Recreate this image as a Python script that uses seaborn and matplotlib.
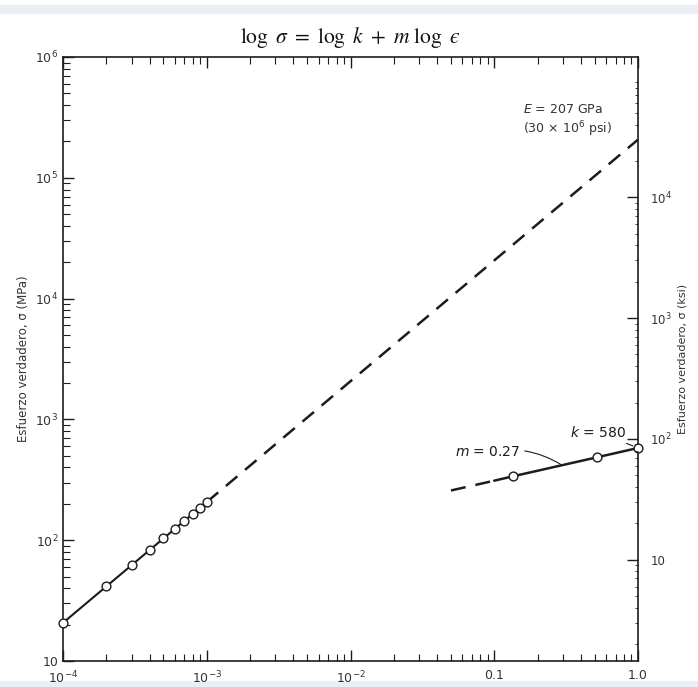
import numpy as np
import pandas as pd
import matplotlib
matplotlib.use("Agg")
import matplotlib.pyplot as plt
import matplotlib.ticker as mticker
from matplotlib.patches import Rectangle
import seaborn as sns

elastic_strain = [1e-4, 2e-4, 3e-4, 4e-4, 5e-4, 6e-4, 7e-4, 8e-4, 9e-4, 1e-3]
elastic_stress = [20.7, 41.4, 62.1, 82.8, 103.5, 124.2, 144.9, 165.6, 186.3, 207.0]
# dashed extension of the elastic line
elastic_ext_strain = [1e-3, 1.0]
elastic_ext_stress = [207.0, 207000.0]

# plastic region
plastic_strain = [0.1, 0.135, 0.52, 1.0]
plastic_stress = [311.0, 338.0, 486.0, 580.0]
plastic_pts_strain = [0.135, 0.52, 1.0]
plastic_pts_stress = [338.0, 486.0, 580.0]
plastic_ext_strain = [0.05, 0.1]
plastic_ext_stress = [258.0, 311.0]

x_ticks = [1e-4, 1e-3, 1e-2, 0.1, 1.0]
x_labels = [r'$10^{-4}$', r'$10^{-3}$', r'$10^{-2}$', '0.1', '1.0']
y_ticks = [10, 1e2, 1e3, 1e4, 1e5, 1e6]
y_labels = ['10', r'$10^2$', r'$10^3$', r'$10^4$', r'$10^5$', r'$10^6$']
ksi_ticks = [10, 1e2, 1e3, 1e4]
ksi_labels = ['10', r'$10^2$', r'$10^3$', r'$10^4$']
MPA_PER_KSI = 6.895

sns.set_style("ticks")
plt.rcParams['font.family'] = ['DejaVu Sans']
plt.rcParams['xtick.direction'] = 'in'
plt.rcParams['ytick.direction'] = 'in'

ink = '#1c1c1c'
fig = plt.figure(figsize=(6.98, 6.87), dpi=100)
fig.patch.set_facecolor('white')
# light scan border bands
fig.add_artist(Rectangle((0, 1 - 13 / 687), 1, 8 / 687, transform=fig.transFigure,
                         color='#eaeef5', zorder=0))
fig.add_artist(Rectangle((0, 0), 1, 6 / 687, transform=fig.transFigure,
                         color='#eaeef5', zorder=0))

ax = fig.add_axes([63 / 698, 26 / 687, 575 / 698, 604 / 687])
ax.set_xscale('log')
ax.set_yscale('log')
ax.set_xlim(1e-4, 1.0)
ax.set_ylim(10, 1e6)

sns.lineplot(x=elastic_strain, y=elastic_stress, ax=ax, color=ink, lw=1.5, sort=False)
sns.lineplot(x=elastic_ext_strain, y=elastic_ext_stress, ax=ax, color=ink, lw=1.8,
             linestyle=(0, (6, 4)), sort=False)
sns.lineplot(x=plastic_strain, y=plastic_stress, ax=ax, color=ink, lw=1.8, sort=False)
sns.lineplot(x=plastic_ext_strain, y=plastic_ext_stress, ax=ax, color=ink, lw=1.8,
             linestyle=(0, (6, 4)), sort=False)
sns.scatterplot(x=elastic_strain + plastic_pts_strain,
                y=elastic_stress + plastic_pts_stress, ax=ax,
                marker='o', s=40, facecolor='white', edgecolor=ink, linewidth=1.0,
                zorder=5, clip_on=False)

ax.xaxis.set_major_locator(mticker.FixedLocator(x_ticks))
ax.xaxis.set_major_formatter(mticker.FixedFormatter(x_labels))
ax.yaxis.set_major_locator(mticker.FixedLocator(y_ticks))
ax.yaxis.set_major_formatter(mticker.FixedFormatter(y_labels))
ax.xaxis.set_minor_locator(mticker.LogLocator(base=10, subs=np.arange(2, 10)))
ax.yaxis.set_minor_locator(mticker.LogLocator(base=10, subs=np.arange(2, 10)))
ax.xaxis.set_minor_formatter(mticker.NullFormatter())
ax.yaxis.set_minor_formatter(mticker.NullFormatter())
ax.tick_params(which='both', top=True, right=False, colors=ink, labelcolor='#333333',
               labelsize=9)
ax.tick_params(which='major', length=8, width=1.0)
ax.tick_params(which='minor', length=5, width=0.8)
ax.tick_params(axis='x', which='major', pad=6)
for sp in ax.spines.values():
    sp.set_color(ink)
    sp.set_linewidth(1.2)
ax.set_ylabel('Esfuerzo verdadero, σ (MPa)', fontsize=8.5, color='#333333', labelpad=4)

# right axis in ksi
ax2 = ax.twinx()
ax2.set_yscale('log')
ax2.set_ylim(10 / MPA_PER_KSI, 1e6 / MPA_PER_KSI)
ax2.yaxis.set_major_locator(mticker.FixedLocator(ksi_ticks))
ax2.yaxis.set_major_formatter(mticker.FixedFormatter(ksi_labels))
ax2.yaxis.set_minor_locator(mticker.LogLocator(base=10, subs=np.arange(2, 10)))
ax2.yaxis.set_minor_formatter(mticker.NullFormatter())
ax2.tick_params(which='both', colors=ink, labelcolor='#333333', labelsize=8.5, pad=9)
ax2.tick_params(which='major', length=8, width=1.0)
ax2.tick_params(which='minor', length=2, width=0.6)
ax2.set_ylabel('Esfuerzo verdadero, σ (ksi)', fontsize=8, color='#333333', labelpad=4)
for sp in ax2.spines.values():
    sp.set_visible(False)

ax.set_title('$\\log\\ \\sigma\\ =\\ \\log\\ k\\ +\\ m\\ \\log\\ ϵ$', fontsize=15.5,
             math_fontfamily='stix', pad=10, color='#111111')

ax.text(0.80, 0.894, '$E$ = 207 GPa\n(30 × 10$^6$ psi)', transform=ax.transAxes,
        ha='left', va='center', fontsize=9, color='#333333', linespacing=1.3)
ax.annotate('$k$ = 580', xy=(1.0, 580), xytext=(0.882, 0.379),
            textcoords='axes fraction', ha='left', va='center', fontsize=10, color=ink,
            arrowprops=dict(arrowstyle='-', color=ink, lw=0.8, shrinkA=1, shrinkB=4))
ax.annotate('$m$ = 0.27', xy=(0.296, 418), xytext=(0.682, 0.346),
            textcoords='axes fraction', ha='left', va='center', fontsize=10, color=ink,
            arrowprops=dict(arrowstyle='-', color=ink, lw=0.8, shrinkA=1, shrinkB=0,
                            connectionstyle='arc3,rad=-0.2'))

fig.savefig('out.png', dpi=100)
